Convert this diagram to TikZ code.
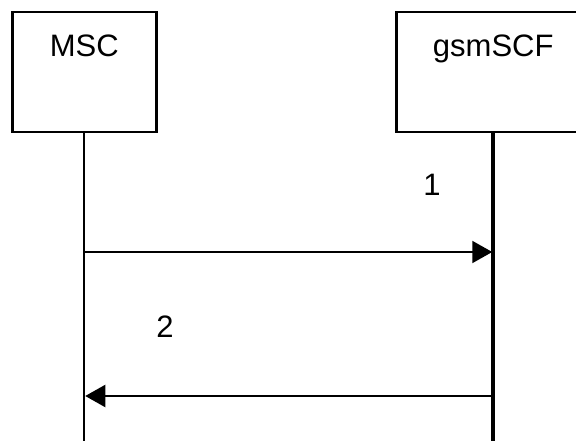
\documentclass[tikz,border=0pt]{standalone}
\usepackage{fontspec}
\setmainfont{Liberation Sans}
\usetikzlibrary{arrows.meta,positioning}

\begin{document}
\begin{tikzpicture}[x=1pt,y=-1pt,>={Triangle[length=20pt,width=22pt]},
  font=\fontsize{31}{36}\selectfont,
  entity/.style={draw,line width=2.5pt,minimum height=120pt,anchor=north west,inner sep=0pt},
  title/.style={inner sep=0pt},
  life/.style={line width=2pt},
  msg/.style={->,line width=2pt}]
\useasboundingbox (0,0) rectangle (576,441);
\clip (0,0) rectangle (576,441);
% entities
\node[entity,minimum width=144pt] (msc) at (11,11) {};
\node[entity,minimum width=194pt] (scf) at (395,11) {};
\node[title,below=24pt of msc.north] (msctxt) {MSC};
\node[title,below=24pt of scf.north] (scftxt) {gsmSCF};
% lifelines
\coordinate (bot) at (0,446);
\draw[life] (msc.south) -- (msc.south |- bot);
\draw[life,line width=4pt] (scf.south) -- (scf.south |- bot);
% messages
\coordinate (m1) at (msc.south |- 0,252);
\coordinate (s1) at (scf.south |- 0,252);
\coordinate (m2) at (msc.south |- 0,396);
\coordinate (s2) at (scf.south |- 0,396);
\draw[msg,shorten >=1pt] (m1) -- (s1);
\draw[msg,shorten >=1pt] (s2) -- (m2);
\node (lbl1) at (432,185) {1};
\node (lbl2) at (165,327) {2};
\end{tikzpicture}
\end{document}
